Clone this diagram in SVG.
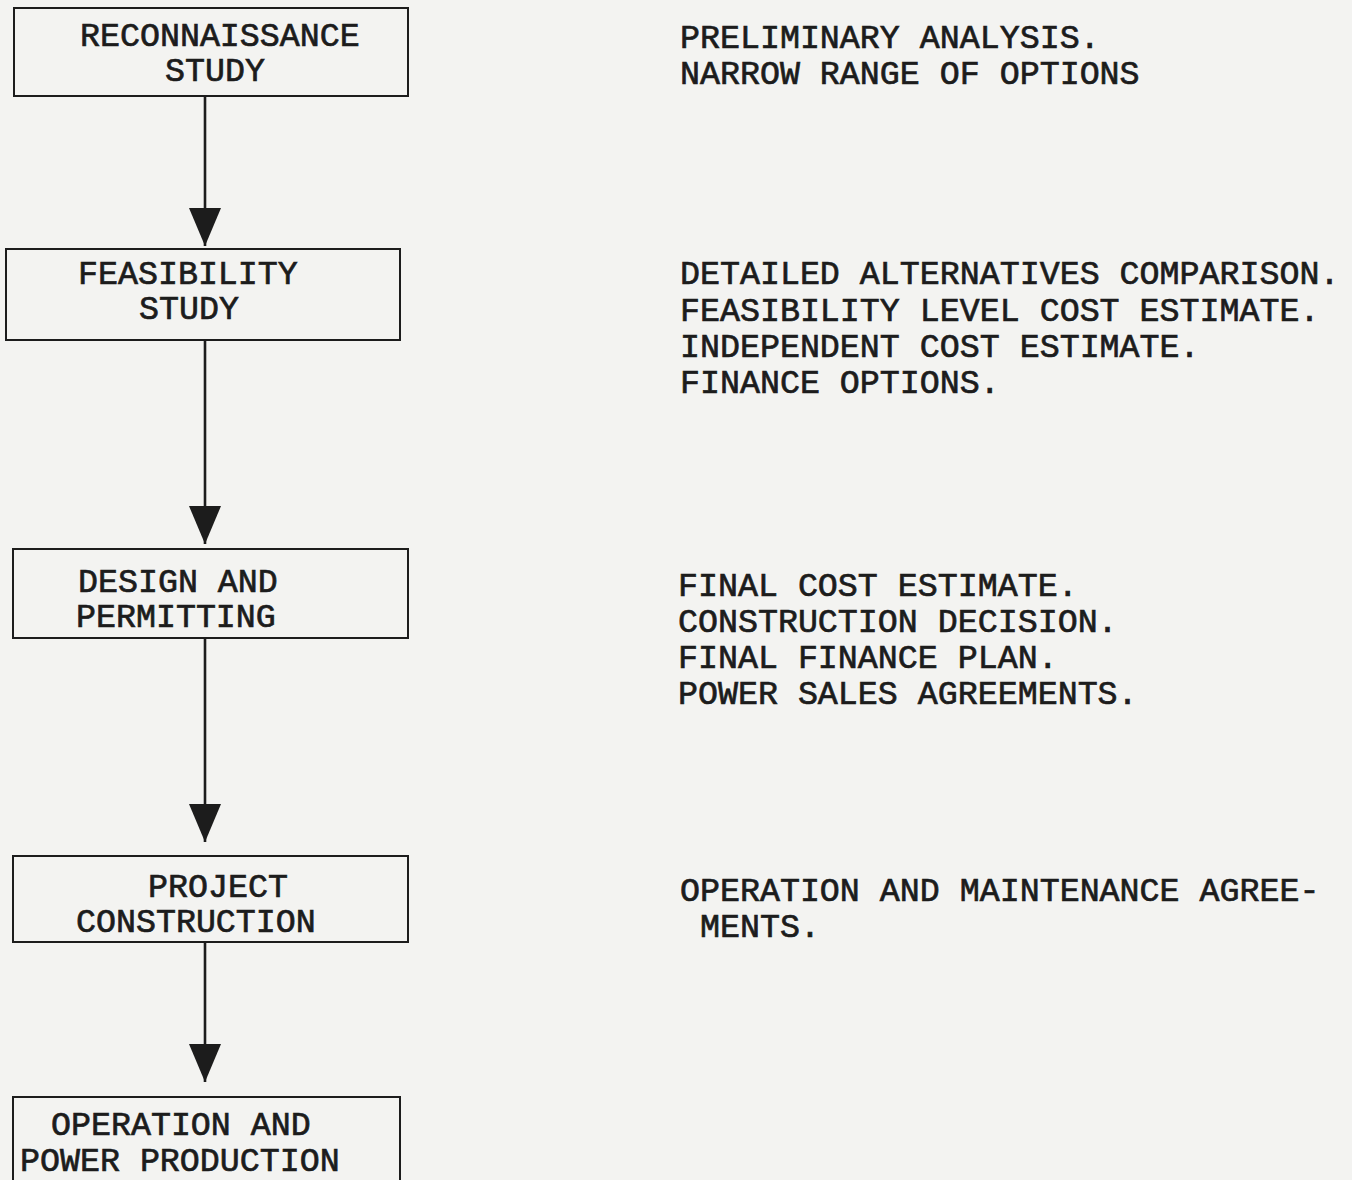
<svg xmlns="http://www.w3.org/2000/svg" width="1352" height="1180" viewBox="0 0 1352 1180">
<defs>
<style>
.bg{fill:#f3f3f1}
.box{fill:none;stroke:#1c1c1c;stroke-width:2}
.t{font-family:"Liberation Mono","Courier New",monospace;font-size:33.3px;fill:#1c1c1c;stroke:#1c1c1c;stroke-width:0.7}
.wire{stroke:#1c1c1c;stroke-width:2.6;fill:none;marker-end:url(#arr)}
</style>
<marker id="arr" viewBox="0 0 38 32" refX="38" refY="16" markerWidth="38" markerHeight="32" markerUnits="userSpaceOnUse" orient="auto">
<path d="M0,0 L38,16 L0,32 z" fill="#1c1c1c"/>
</marker>
</defs>
<rect class="bg" x="0" y="0" width="1352" height="1180"/>
<g id="connectors">
<path class="wire" d="M205,96 L205,246"/>
<path class="wire" d="M205,340 L205,544"/>
<path class="wire" d="M205,638 L205,842"/>
<path class="wire" d="M205,942 L205,1082"/>
</g>
<g id="reconnaissance">
<rect class="box" x="14" y="8" width="394" height="88"/>
<text class="t" x="80" y="46">RECONNAISSANCE</text>
<text class="t" x="165" y="81">STUDY</text>
</g>
<g id="feasibility">
<rect class="box" x="6" y="249" width="394" height="91"/>
<text class="t" x="78" y="284">FEASIBILITY</text>
<text class="t" x="139" y="319">STUDY</text>
</g>
<g id="design">
<rect class="box" x="13" y="549" width="395" height="89"/>
<text class="t" x="78" y="592">DESIGN AND</text>
<text class="t" x="76" y="627">PERMITTING</text>
</g>
<g id="construction">
<rect class="box" x="13" y="856" width="395" height="86"/>
<text class="t" x="148" y="897">PROJECT</text>
<text class="t" x="76" y="932">CONSTRUCTION</text>
</g>
<g id="operation">
<rect class="box" x="13" y="1097" width="387" height="100"/>
<text class="t" x="51" y="1135">OPERATION AND</text>
<text class="t" x="20" y="1171">POWER PRODUCTION</text>
</g>
<g id="notes-reconnaissance">
<text class="t" x="680" y="48">PRELIMINARY ANALYSIS.</text>
<text class="t" x="680" y="84">NARROW RANGE OF OPTIONS</text>
</g>
<g id="notes-feasibility">
<text class="t" x="680" y="284">DETAILED ALTERNATIVES COMPARISON.</text>
<text class="t" x="680" y="321">FEASIBILITY LEVEL COST ESTIMATE.</text>
<text class="t" x="680" y="357">INDEPENDENT COST ESTIMATE.</text>
<text class="t" x="680" y="393">FINANCE OPTIONS.</text>
</g>
<g id="notes-design">
<text class="t" x="678" y="596">FINAL COST ESTIMATE.</text>
<text class="t" x="678" y="632">CONSTRUCTION DECISION.</text>
<text class="t" x="678" y="668">FINAL FINANCE PLAN.</text>
<text class="t" x="678" y="704">POWER SALES AGREEMENTS.</text>
</g>
<g id="notes-construction">
<text class="t" x="680" y="901">OPERATION AND MAINTENANCE AGREE-</text>
<text class="t" x="700" y="937">MENTS.</text>
</g>
</svg>
